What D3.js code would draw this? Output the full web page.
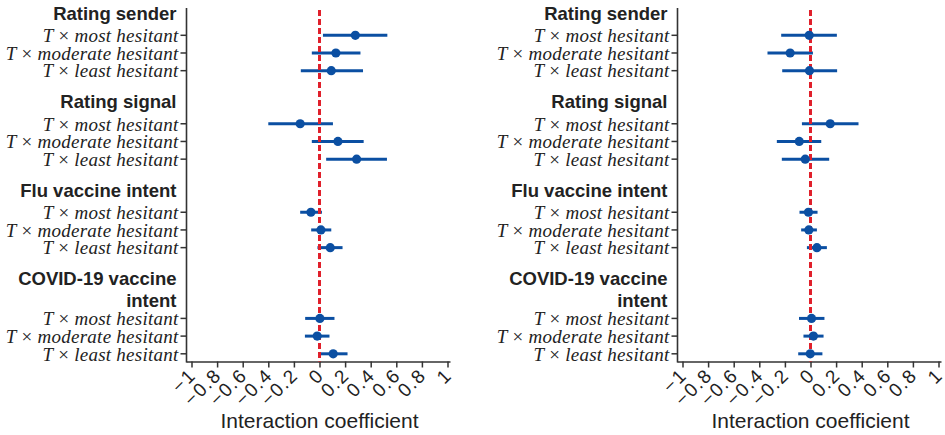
<!DOCTYPE html>
<html>
<head>
<meta charset="utf-8">
<script src="https://cdn.jsdelivr.net/npm/d3@7/dist/d3.min.js"></script>
<style>
  html, body { margin: 0; padding: 0; background: #fff; }
  svg { display: block; }
</style>
</head>
<body>
<svg id="chart" width="945" height="435"></svg>
<script>
// ---------------- DATA ----------------
const headerLines = [["Rating sender"], ["Rating signal"], ["Flu vaccine intent"], ["COVID-19 vaccine", "intent"]];
const groupStartSlot = [0, 5, 10, 15];
const rowLabels = ["most hesitant", "moderate hesitant", "least hesitant"];
const xTicks = [-1, -0.8, -0.6, -0.4, -0.2, 0, 0.2, 0.4, 0.6, 0.8, 1];
const xTickLabels = ["\u22121", "\u22120.8", "\u22120.6", "\u22120.4", "\u22120.2", "0", "0.2", "0.4", "0.6", "0.8", "1"];
const axisTitle = "Interaction coefficient";

// left panel: estimate, lower CI, upper CI (4 groups x 3 rows)
const leftEst = [0.28, 0.128, 0.092, -0.151, 0.144, 0.29, -0.067, 0.011, 0.084, 0.003, -0.018, 0.107];
const leftLo  = [0.027, -0.06, -0.146, -0.40, -0.06, 0.052, -0.151, -0.065, -0.016, -0.112, -0.114, -0.005];
const leftHi  = [0.53, 0.32, 0.34, 0.105, 0.345, 0.527, 0.019, 0.092, 0.18, 0.117, 0.078, 0.219];

// right panel
const rightEst = [-0.01, -0.159, -0.008, 0.154, -0.088, -0.041, -0.016, -0.013, 0.05, 0.008, 0.023, -0.002];
const rightLo  = [-0.229, -0.336, -0.221, -0.067, -0.263, -0.224, -0.086, -0.073, -0.028, -0.09, -0.055, -0.096];
const rightHi  = [0.206, 0.019, 0.208, 0.375, 0.084, 0.146, 0.055, 0.05, 0.128, 0.109, 0.102, 0.093];

// ---------------- STYLE ----------------
const BLUE = "#0b4fa2";
const RED = "#e0202b";
const AXIS = "#333";
const SANS = "'Liberation Sans', Arial, Helvetica, sans-serif";
const SERIF = "'Liberation Serif', 'Times New Roman', Times, serif";

const svg = d3.select("#chart");
const y = d3.scaleLinear().domain([0, 19]).range([17.6, 353.8]);
const axisTop = 8, axisBottom = 361.5;

function buildRows(est, lo, hi) {
  const rows = [];
  headerLines.forEach((lines, g) => {
    rowLabels.forEach((lab, r) => {
      const i = g * 3 + r;
      rows.push({ slot: groupStartSlot[g] + lines.length + r, label: lab, est: est[i], lo: lo[i], hi: hi[i] });
    });
  });
  return rows;
}

function drawPanel(axisX, est, lo, hi) {
  const g = svg.append("g");
  const x = d3.scaleLinear().domain([-1, 1]).range([axisX + 5, axisX + 261]);
  const rows = buildRows(est, lo, hi);

  // bottom axis
  const xAxis = d3.axisBottom(x).tickValues(xTicks).tickSize(6).tickSizeOuter(0)
    .tickFormat((d, i) => xTickLabels[i]);
  const ax = g.append("g").attr("transform", `translate(0,${axisBottom})`).call(xAxis);
  ax.select(".domain").attr("d", `M${axisX},0.5H${axisX + 264}`).attr("stroke", AXIS).attr("stroke-width", 1.6);
  ax.selectAll(".tick line").attr("stroke", AXIS).attr("stroke-width", 1.5);
  ax.selectAll(".tick text")
    .attr("font-family", SANS).attr("font-size", 19).attr("fill", "#222")
    .attr("text-anchor", "end").attr("letter-spacing", "1.5px")
    .attr("dy", null).attr("y", 0).attr("x", 0)
    .attr("transform", "translate(5,15) rotate(-45)");

  // left axis line
  g.append("line").attr("x1", axisX).attr("x2", axisX).attr("y1", axisTop).attr("y2", axisBottom + 1)
    .attr("stroke", AXIS).attr("stroke-width", 1.6);

  // left ticks
  g.selectAll(".ytick").data(rows).join("line")
    .attr("x1", axisX - 6).attr("x2", axisX).attr("y1", d => y(d.slot)).attr("y2", d => y(d.slot))
    .attr("stroke", AXIS).attr("stroke-width", 1.5);

  // row labels
  const lbl = g.selectAll(".rlab").data(rows).join("text")
    .attr("x", axisX - 8).attr("y", d => y(d.slot) + 6.8)
    .attr("text-anchor", "end").attr("font-family", SERIF).attr("font-size", 19)
    .attr("letter-spacing", "0.25px").attr("fill", "#222");
  lbl.append("tspan").attr("font-style", "italic").text("T");
  lbl.append("tspan").text(" \u00D7 ");
  lbl.append("tspan").attr("font-style", "italic").text(d => d.label);

  // headers
  headerLines.forEach((lines, gi) => {
    lines.forEach((t, li) => {
      g.append("text").attr("x", axisX - 10).attr("y", y(groupStartSlot[gi]) + 2.4 + li * 22)
        .attr("text-anchor", "end").attr("font-family", SANS).attr("font-weight", "bold")
        .attr("font-size", 18.5).attr("fill", "#222").text(t);
    });
  });

  // CI lines
  g.selectAll(".ci").data(rows).join("line")
    .attr("x1", d => x(d.lo)).attr("x2", d => x(d.hi))
    .attr("y1", d => y(d.slot)).attr("y2", d => y(d.slot))
    .attr("stroke", BLUE).attr("stroke-width", 3);

  // zero line
  g.append("line").attr("x1", x(0)).attr("x2", x(0)).attr("y1", axisTop + 2).attr("y2", axisBottom)
    .attr("stroke", RED).attr("stroke-width", 3).attr("stroke-dasharray", "6,3");

  // points
  g.selectAll(".pt").data(rows).join("circle")
    .attr("cx", d => x(d.est)).attr("cy", d => y(d.slot)).attr("r", 4.6)
    .attr("fill", BLUE);

  // axis title
  g.append("text").attr("x", (x.range()[0] + x.range()[1]) / 2).attr("y", 428)
    .attr("text-anchor", "middle").attr("font-family", SANS).attr("font-size", 21).attr("fill", "#222")
    .text(axisTitle);
}

drawPanel(186.5, leftEst, leftLo, leftHi);
drawPanel(677.5, rightEst, rightLo, rightHi);
</script>
</body>
</html>
